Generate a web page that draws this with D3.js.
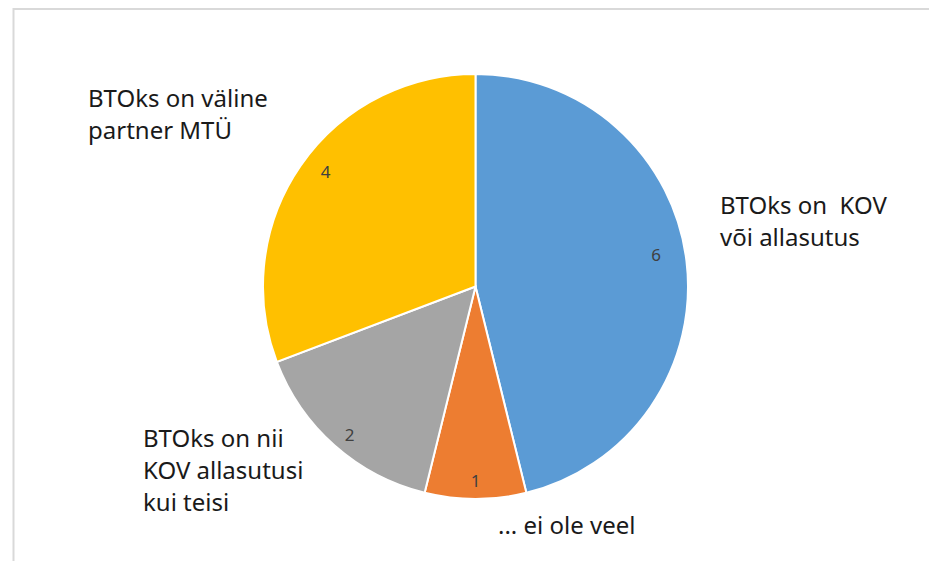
<!DOCTYPE html>
<html>
<head>
<meta charset="utf-8">
<script src="https://cdnjs.cloudflare.com/ajax/libs/d3/7.8.5/d3.min.js"></script>
<style>
  body { margin: 0; background: #fff; }
</style>
</head>
<body>
<svg id="chart" width="929" height="561"></svg>
<script>
// andmed
var categories = ['BTOks on  KOV\nvõi allasutus', '... ei ole veel', 'BTOks on nii\nKOV allasutusi\nkui teisi', 'BTOks on väline\npartner MTÜ'];
var values = [6, 1, 2, 4];
var colors = ['#5b9bd5', '#ed7d31', '#a5a5a5', '#ffc000'];

// siltide asukohad (vasak serv, esimese rea alusjoon)
var labelPos = [[720, 214], [498, 534], [143, 447], [88, 107]];
// väärtussiltide nihe (Exceli "best fit")
var valShift = [[-5, -9], [0, 8], [-2, 9], [4, -8]];

var width = 929, height = 561;
var cx = 475.5, cy = 286.5, radius = 212.5;

var svg = d3.select('#chart');

// raam
svg.append('rect')
    .attr('x', 13.5)
    .attr('y', 9)
    .attr('width', 940)
    .attr('height', 600)
    .attr('fill', 'none')
    .attr('stroke', '#d9d9d9')
    .attr('stroke-width', 2);

var pie = d3.pie().sort(null).value(function (d) { return d; });
var arcs = pie(values);
var arc = d3.arc().innerRadius(0).outerRadius(radius);
var labelArc = d3.arc().innerRadius(radius * 0.88).outerRadius(radius * 0.88);

var g = svg.append('g').attr('transform', 'translate(' + cx + ',' + cy + ')');

g.selectAll('path')
    .data(arcs)
    .enter()
    .append('path')
    .attr('d', arc)
    .attr('fill', function (d, i) { return colors[i]; })
    .attr('stroke', '#fff')
    .attr('stroke-width', 2);

// väärtused
g.selectAll('text.val')
    .data(arcs)
    .enter()
    .append('text')
    .attr('class', 'val')
    .attr('transform', function (d, i) {
        var c = labelArc.centroid(d);
        return 'translate(' + (c[0] + valShift[i][0]) + ',' + (c[1] + valShift[i][1]) + ')';
    })
    .attr('text-anchor', 'middle')
    .attr('dy', '0.35em')
    .attr('font-family', 'Noto Sans, Liberation Sans, sans-serif')
    .attr('font-size', 17)
    .attr('fill', '#404040')
    .text(function (d) { return d.data; });

// kategooriad
var cat = svg.selectAll('text.cat')
    .data(categories)
    .enter()
    .append('text')
    .attr('class', 'cat')
    .attr('x', function (d, i) { return labelPos[i][0]; })
    .attr('y', function (d, i) { return labelPos[i][1]; })
    .attr('font-family', 'Noto Sans, Liberation Sans, sans-serif')
    .attr('font-size', 24)
    .attr('fill', '#1a1a1a')
    .style('white-space', 'pre');

cat.each(function (d, i) {
    var lines = d.split('\n');
    var t = d3.select(this);
    lines.forEach(function (line, j) {
        t.append('tspan')
            .attr('x', labelPos[i][0])
            .attr('dy', j === 0 ? 0 : 32)
            .text(line);
    });
});
</script>
</body>
</html>
